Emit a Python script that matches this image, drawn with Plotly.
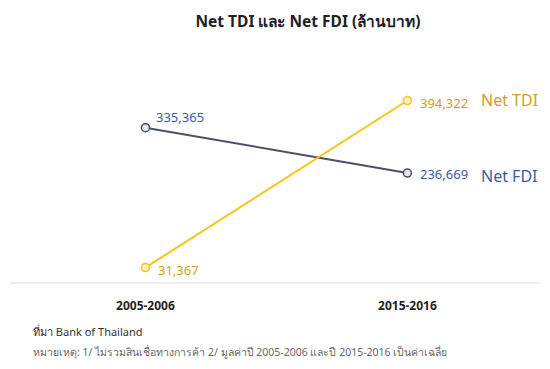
import plotly.graph_objects as go

categories = ["2005-2006", "2015-2016"]
net_fdi = [335365, 236669]
net_tdi = [31367, 394322]
series_names = ["Net TDI", "Net FDI"]

FDI_LINE = "#4b5266"
FDI_TEXT = "#3b5b9b"
TDI_LINE = "#ffc20e"
TDI_TEXT = "#c9a227"
FONT = "Noto Sans, Tahoma, sans-serif"

xs = [0, 1]
fig = go.Figure()
fig.add_trace(go.Scatter(
    x=xs, y=net_fdi, mode="lines+markers", name=series_names[1],
    line=dict(color=FDI_LINE, width=2),
    marker=dict(size=8, color="#e4e6ec", line=dict(color=FDI_LINE, width=1.5)),
    hoverinfo="skip"))
fig.add_trace(go.Scatter(
    x=xs, y=net_tdi, mode="lines+markers", name=series_names[0],
    line=dict(color=TDI_LINE, width=2),
    marker=dict(size=8, color="#fff3c8", line=dict(color=TDI_LINE, width=1.5)),
    hoverinfo="skip"))

def fmt(v):
    return f"{v:,}"

anns = []
# FDI labels
anns.append(dict(x=xs[0], y=net_fdi[0], text=fmt(net_fdi[0]), xanchor="left", yanchor="middle",
                 xshift=9, yshift=11, font=dict(color=FDI_TEXT, size=13)))
anns.append(dict(x=xs[1], y=net_fdi[1], text=fmt(net_fdi[1]), xanchor="left", yanchor="middle",
                 xshift=11, yshift=-1, font=dict(color=FDI_TEXT, size=13)))
anns.append(dict(x=xs[1], y=net_fdi[1], text=series_names[1], xanchor="left", yanchor="middle",
                 xshift=72, yshift=-3, font=dict(color=FDI_TEXT, size=16)))
# TDI labels
anns.append(dict(x=xs[0], y=net_tdi[0], text=fmt(net_tdi[0]), xanchor="left", yanchor="middle",
                 xshift=11, yshift=-2, font=dict(color=TDI_TEXT, size=13)))
anns.append(dict(x=xs[1], y=net_tdi[1], text=fmt(net_tdi[1]), xanchor="left", yanchor="middle",
                 xshift=11, yshift=-2, font=dict(color=TDI_TEXT, size=13)))
anns.append(dict(x=xs[1], y=net_tdi[1], text=series_names[0], xanchor="left", yanchor="middle",
                 xshift=72, yshift=1, font=dict(color=TDI_TEXT, size=16)))
for a in anns:
    a.update(xref="x", yref="y", showarrow=False)

# footnotes (pixel positions converted to paper coords below)
anns.append(dict(x=31, y=331, xref="paper", yref="paper", text="ที่มา Bank of Thailand",
                 showarrow=False, font=dict(size=11, color="#333333")))
anns.append(dict(x=31, y=352, xref="paper", yref="paper",
                 text="หมายเหตุ: 1/ ไม่รวมสินเชื่อทางการค้า 2/ มูลค่าปี 2005-2006 และปี 2015-2016 เป็นค่าเฉลี่ย",
                 showarrow=False, font=dict(size=10.5, color="#666666")))

W, H = 550, 369
L, R, T, B = 10, 10, 60, 87
pw, ph = W - L - R, H - T - B
for a in anns[-2:]:
    px, py = a["x"], a["y"]
    a["x"] = (px - L) / pw
    a["y"] = (H - B - py) / ph
    a["xanchor"] = "left"
    a["yanchor"] = "middle"

fig.update_layout(
    width=W, height=H,
    margin=dict(l=L, r=R, t=T, b=B),
    paper_bgcolor="white", plot_bgcolor="white",
    font=dict(family=FONT),
    showlegend=False,
    title=dict(text="<b>Net TDI และ Net FDI (ล้านบาท)</b>", x=0.56, xanchor="center",
               y=1 - 22 / H, yanchor="middle", font=dict(size=15.5, color="#222222")),
    annotations=anns,
    xaxis=dict(range=[-0.517, 1.506], tickvals=xs, ticktext=[f"<b>{c}</b>" for c in categories],
               showgrid=False, zeroline=False, showline=True, linecolor="#eeeeee", linewidth=2,
               ticks="", tickfont=dict(size=12, color="#222222"), ticklabelstandoff=12),
    yaxis=dict(range=[0, 482400], visible=False, showgrid=False, zeroline=False),
)
fig.write_html("out.html", config={"displayModeBar": False},
               post_script="document.body.style.margin='0';document.body.style.padding='0';")
